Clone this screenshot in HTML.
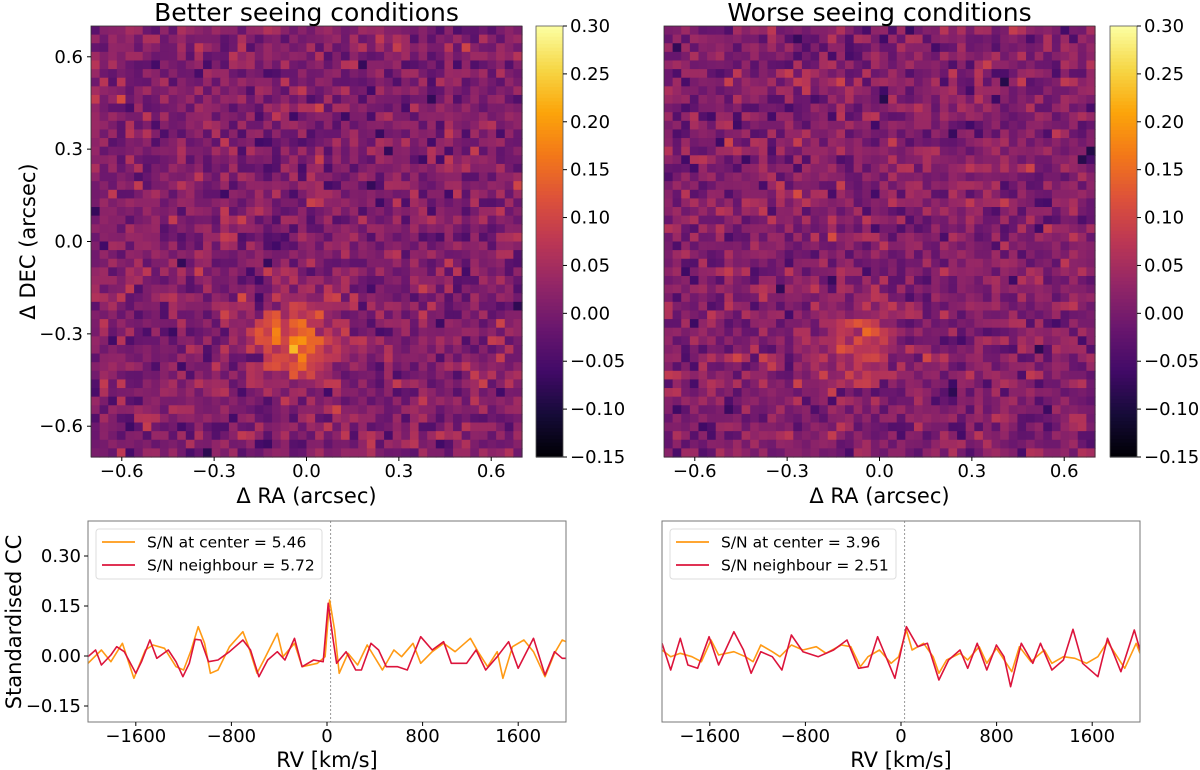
<!DOCTYPE html>
<html><head><meta charset="utf-8">
<style>
html,body{margin:0;padding:0;background:#fff;}
svg{display:block;font-family:"DejaVu Sans","Liberation Sans",sans-serif;}
</style></head>
<body>
<svg id="fig" width="1200" height="770" viewBox="0 0 1200 770" xmlns="http://www.w3.org/2000/svg"></svg>
<script>
// ---------- data ----------
const mapTicks = [-0.6, -0.3, 0.0, 0.3, 0.6];
const cbarTicks = [0.30, 0.25, 0.20, 0.15, 0.10, 0.05, 0.00, -0.05, -0.10, -0.15];
const rvTicks = [-1600, -800, 0, 800, 1600];
const ccTicks = [0.30, 0.15, 0.00, -0.15];
const gridN = 50;
const blobBetter = [-0.04, -0.31, 0.14, 0.09]; // x, y, amplitude, sigma
const blobWorse = [-0.06, -0.33, 0.09, 0.075];
const noiseLevel = [0.01, 0.032]; // mean, std of background texture
const seeds = [12345, 67891];

const rvBetterC = [-2000,-1888,-1808,-1712,-1616,-1520,-1456,-1360,-1264,-1200,-1136,-1078,-1024,-976,-912,-816,-704,-656,-586,-528,-416,-368,-272,-208,-80,-16,22,64,102,176,256,336,464,560,624,720,784,880,976,1072,1200,1264,1344,1424,1472,1552,1648,1728,1824,1904,1968,2000];
const ccBetterC = [-0.022,0.018,-0.017,0.038,-0.067,0.018,0.033,0.023,-0.032,-0.042,0.018,0.088,0.038,-0.052,-0.042,0.028,0.073,0.028,-0.052,-0.012,0.068,-0.002,0.038,-0.032,-0.022,-0.002,0.168,0.078,-0.052,0.008,-0.027,0.033,-0.042,0.018,-0.002,0.038,-0.022,0.013,0.038,0.013,0.053,0.013,-0.032,0.013,-0.067,0.028,0.048,0.013,-0.062,0.008,0.048,0.043];
const rvBetterN = [-2000,-1936,-1888,-1808,-1760,-1696,-1600,-1552,-1482,-1424,-1328,-1264,-1206,-1152,-1104,-1056,-992,-912,-816,-704,-640,-570,-496,-416,-352,-272,-208,-112,-32,10,48,80,160,240,288,368,432,496,592,672,784,880,976,1040,1168,1248,1328,1424,1520,1600,1728,1824,1904,1968,2000];
const ccBetterN = [-0.002,0.018,-0.027,0.003,0.028,0.013,-0.052,-0.017,0.048,-0.007,0.018,-0.017,-0.062,-0.022,0.05,0.048,-0.017,-0.012,0.013,0.048,0.018,-0.062,-0.012,0.013,-0.012,0.053,-0.032,-0.012,-0.017,0.158,0.058,-0.022,0.013,-0.042,-0.042,0.038,0.018,-0.032,-0.032,-0.042,0.058,0.018,0.043,-0.022,-0.022,0.018,-0.042,-0.002,0.043,-0.037,0.053,-0.057,0.013,-0.007,-0.007];
const rvWorseC = [-2000,-1927,-1847,-1750,-1670,-1590,-1526,-1398,-1302,-1238,-1173,-1077,-1013,-917,-821,-709,-628,-500,-420,-340,-276,-180,-83,-19,45,93,189,269,317,382,494,558,654,718,798,846,927,991,1087,1199,1263,1359,1455,1552,1648,1728,1872,1968,2000];
const ccWorseC = [0.018,-0.002,0.008,-0.002,-0.017,0.048,0.003,0.013,-0.002,-0.017,0.033,0.013,-0.002,0.033,0.018,0.028,0.008,0.033,0.028,-0.032,-0.002,0.018,-0.022,-0.002,0.078,0.018,0.038,-0.002,-0.052,-0.012,0.008,-0.012,0.028,-0.022,0.023,-0.002,-0.047,0.028,-0.017,0.018,-0.022,-0.002,-0.007,-0.022,-0.002,0.043,-0.037,0.038,0.008];
const rvWorseN = [-2000,-1927,-1847,-1783,-1702,-1606,-1526,-1398,-1318,-1254,-1173,-1077,-997,-917,-821,-692,-564,-452,-356,-276,-196,-115,-51,45,93,141,221,317,398,494,558,638,718,798,862,917,1007,1103,1167,1263,1359,1439,1520,1648,1728,1840,1952,2000];
const ccWorseN = [0.038,-0.042,0.053,-0.027,-0.037,0.058,-0.027,0.073,0.018,-0.052,0.013,-0.002,-0.042,0.063,0.013,-0.002,0.018,0.048,-0.037,-0.032,0.058,-0.012,-0.067,0.088,0.058,0.028,0.038,-0.072,-0.012,0.018,-0.037,0.038,-0.042,0.033,-0.002,-0.092,0.038,-0.022,0.038,-0.042,-0.012,0.08,-0.022,-0.062,0.053,-0.047,0.078,0.018];
const legendBetter = ["S/N at center = 5.46", "S/N neighbour = 5.72"];
const legendWorse = ["S/N at center = 3.96", "S/N neighbour = 2.51"];

// ---------- helpers ----------
const NS = "http://www.w3.org/2000/svg";
const svg = document.getElementById("fig");
function mk(tag, attrs, parent, text){
  const e = document.createElementNS(NS, tag);
  for (const k in attrs) e.setAttribute(k, attrs[k]);
  if (text !== undefined) e.textContent = text;
  (parent || svg).appendChild(e);
  return e;
}
function fmt(v, d){ const s = Math.abs(v).toFixed(d); return (v < -1e-9 ? "\u2212" : "") + s; }
const stops = ["#000004","#160b39","#420a68","#6a176e","#932667","#bc3754","#dd513a","#f37819","#fca50a","#f6d746","#fcffa4"];
function hex(c){ return [parseInt(c.substr(1,2),16),parseInt(c.substr(3,2),16),parseInt(c.substr(5,2),16)]; }
const stopRGB = stops.map(hex);
function inferno(t){
  t = Math.max(0, Math.min(1, t)) * 10;
  const i = Math.min(9, Math.floor(t)), f = t - i;
  const a = stopRGB[i], b = stopRGB[i+1];
  return "rgb(" + [0,1,2].map(k => Math.round(a[k] + (b[k]-a[k])*f)).join(",") + ")";
}
function lcg(seed){ let s = seed; return () => { s = (s * 1664525 + 1013904223) % 4294967296; return s / 4294967296; }; }

// ---------- heatmaps ----------
function heatmap(x0, title, blob, seed, showY, cbx){
  const y0 = 26, size = 431, vmin = -0.15, vmax = 0.30;
  const g = mk("g", {}, svg);
  
  
  const sx = v => x0 + (v + 0.7) / 1.4 * size;
  const sy = v => y0 + (0.7 - v) / 1.4 * size;
  const rnd = lcg(seed);
  const cw = size / gridN;
  for (let r = 0; r < gridN; r++){
    for (let c = 0; c < gridN; c++){
      const xv = -0.7 + (c + 0.5) * 1.4 / gridN, yv = 0.7 - (r + 0.5) * 1.4 / gridN;
      let n = 0; for (let k = 0; k < 4; k++) n += rnd(); n = (n - 2) / 0.577;
      const d2 = (xv-blob[0])**2 + (yv-blob[1])**2;
      const v = noiseLevel[0] + noiseLevel[1]*n + blob[2]*Math.exp(-d2/(2*blob[3]*blob[3]));
      const cell = mk("rect", {x: sx(xv) - cw/2, y: sy(yv) - cw/2, width: cw + 0.6, height: cw + 0.6, fill: inferno((v - vmin)/(vmax - vmin))}, g);
      
      
    }
  }
  mk("rect", {x: x0, y: y0, width: size, height: size, fill: "none", stroke: "#333", "stroke-width": 0.8}, g);
  const tt = mk("text", {x: x0 + size/2, y: 21, "text-anchor": "middle", "font-size": 25}, svg, title);
  
  
  mapTicks.forEach(t => {
    mk("line", {x1: sx(t), x2: sx(t), y1: y0+size, y2: y0+size+4, stroke: "#000"}, svg);
    const l = mk("text", {x: sx(t), y: 477, "text-anchor": "middle", "font-size": 18}, svg, fmt(t,1));
    
    
    if (showY){
      mk("line", {x1: x0-4, x2: x0, y1: sy(t), y2: sy(t), stroke: "#000"}, svg);
      const yl = mk("text", {x: x0-8, y: sy(t)+6, "text-anchor": "end", "font-size": 18}, svg, fmt(t,1));
      
      
    }
  });
  const xl = mk("text", {x: x0 + size/2, y: 503, "text-anchor": "middle", "font-size": 21}, svg, "\u0394 RA (arcsec)");
  
  
  if (showY){
    const yt = mk("text", {x: 0, y: 0, "text-anchor": "middle", "font-size": 21, transform: "translate(35," + (y0+size/2) + ") rotate(-90)"}, svg, "\u0394 DEC (arcsec)");
    
    
  }
  const cb = mk("g", {}, svg);
  
  
  const cwid = 27, steps = 120;
  for (let i = 0; i < steps; i++){
    mk("rect", {x: cbx, y: y0 + i*size/steps, width: cwid, height: size/steps + 0.6, fill: inferno(1 - (i+0.5)/steps)}, cb);
  }
  mk("rect", {x: cbx, y: y0, width: cwid, height: size, fill: "none", stroke: "#555", "stroke-width": 0.8}, cb);
  cbarTicks.forEach(t => {
    const yy = y0 + (vmax - t)/(vmax - vmin) * size;
    mk("line", {x1: cbx+cwid, x2: cbx+cwid+4, y1: yy, y2: yy, stroke: "#000"}, cb);
    const l = mk("text", {x: cbx+cwid+7, y: yy+6, "font-size": 18}, cb, fmt(t,2));
    
    
  });
}
heatmap(91, "Better seeing conditions", blobBetter, seeds[0], true, 536);
heatmap(664, "Worse seeing conditions", blobWorse, seeds[1], false, 1110);

// ---------- CC panels ----------
function ccPanel(x0, rvC, ccC, rvN, ccN, legend, showY, name){
  const y0 = 521, w = 478, h = 201;
  const g = mk("g", {}, svg);
  
  
  const sx = v => x0 + (v + 2000) / 4000 * w;
  const sy = v => 656 - v / 0.15 * 50;
  mk("rect", {x: x0, y: y0, width: w, height: h, fill: "#fff"}, g);
  const clipId = "clip" + name;
  const cp = mk("clipPath", {id: clipId}, g);
  mk("rect", {x: x0, y: y0, width: w, height: h}, cp);
  const vl = mk("line", {x1: sx(30), x2: sx(30), y1: y0, y2: y0+h, stroke: "#999", "stroke-width": 1, "stroke-dasharray": "2,2"}, g);
  
  
  const line = (rv, cc, col, nm) => {
    const p = mk("polyline", {points: rv.map((r,i) => sx(r).toFixed(1) + "," + sy(cc[i]).toFixed(1)).join(" "), fill: "none", stroke: col, "stroke-width": 1.6, "stroke-linejoin": "round", "clip-path": "url(#" + clipId + ")"}, g);
    
    
  };
  line(rvC, ccC, "#ff9a14", "center-cc-line");
  line(rvN, ccN, "#dc143c", "neighbour-cc-line");
  mk("rect", {x: x0, y: y0, width: w, height: h, fill: "none", stroke: "#777", "stroke-width": 1}, g);
  rvTicks.forEach(t => {
    mk("line", {x1: sx(t), x2: sx(t), y1: y0+h, y2: y0+h+4, stroke: "#000"}, g);
    const l = mk("text", {x: sx(t), y: 742, "text-anchor": "middle", "font-size": 18}, g, fmt(t,0));
    
    
  });
  if (showY){
    ccTicks.forEach(t => {
      mk("line", {x1: x0-4, x2: x0, y1: sy(t), y2: sy(t), stroke: "#000"}, g);
      const l = mk("text", {x: x0-7, y: sy(t)+6, "text-anchor": "end", "font-size": 18}, g, fmt(t,2));
      
      
    });
    const yt = mk("text", {x: 0, y: 0, "text-anchor": "middle", "font-size": 21, transform: "translate(21,622) rotate(-90)"}, svg, "Standardised CC");
    
    
  }
  const xl = mk("text", {x: x0 + w/2, y: 767, "text-anchor": "middle", "font-size": 21}, svg, "RV [km/s]");
  
  
  const lg = mk("g", {}, g);
  
  
  mk("rect", {x: x0+8, y: 529, width: 226, height: 50, rx: 3, fill: "#fff", stroke: "#ddd"}, lg);
  [["#ff9a14", legend[0], 542], ["#dc143c", legend[1], 565]].forEach(([c, txt, yy]) => {
    mk("line", {x1: x0+14, x2: x0+47, y1: yy, y2: yy, stroke: c, "stroke-width": 1.8}, lg);
    const t = mk("text", {x: x0+59, y: yy+5.5, "font-size": 15.5}, lg, txt);
    
    
  });
}
ccPanel(88, rvBetterC, ccBetterC, rvBetterN, ccBetterN, legendBetter, true, "better-cc-panel");
ccPanel(662, rvWorseC, ccWorseC, rvWorseN, ccWorseN, legendWorse, false, "worse-cc-panel");
</script>
</body></html>
